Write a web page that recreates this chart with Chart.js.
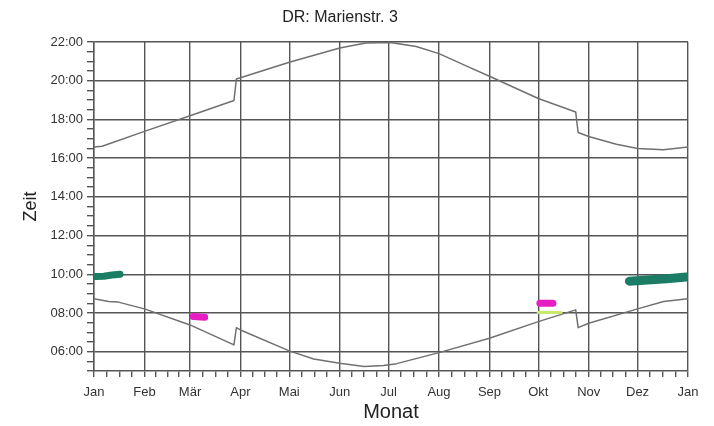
<!DOCTYPE html>
<html>
<head>
<meta charset="utf-8">
<script src="https://cdn.jsdelivr.net/npm/chart.js@4/dist/chart.umd.min.js"></script>
<style>
  html, body { margin: 0; padding: 0; background: #fff; }
  #wrap { width: 714px; height: 426px; }
</style>
</head>
<body>
<div id="wrap"><canvas id="chart" width="714" height="426"></canvas></div>
<script>
// x = day of year, y = time of day in hours
const monthStarts = [0, 31, 59, 90, 120, 151, 181, 212, 243, 273, 304, 334, 365];
const monthNames = ['Jan', 'Feb', 'Mär', 'Apr', 'Mai', 'Jun', 'Jul', 'Aug', 'Sep', 'Okt', 'Nov', 'Dez', 'Jan'];

// sunset (upper curve)
const sunsetDays  = [0, 5, 31, 59, 86, 87.5, 90, 120, 151, 167, 182, 198, 212, 229, 243, 273, 296, 297.5, 304, 321, 334, 350, 365];
const sunsetTimes = [16.57, 16.61, 17.38, 18.19, 18.98, 20.09, 20.15, 20.95, 21.69, 21.95, 21.98, 21.77, 21.40, 20.75, 20.23, 19.08, 18.38, 17.32, 17.12, 16.72, 16.50, 16.43, 16.57];

// sunrise (lower curve)
const sunriseDays  = [0, 9, 15, 31, 59, 86, 87.5, 90, 120, 135, 151, 166, 178, 186, 212, 243, 273, 296, 297.5, 304, 334, 350, 365];
const sunriseTimes = [8.73, 8.59, 8.56, 8.21, 7.38, 6.35, 7.24, 7.12, 6.04, 5.62, 5.40, 5.23, 5.28, 5.38, 5.95, 6.69, 7.55, 8.16, 7.24, 7.47, 8.21, 8.59, 8.73];

// shadow marks
const greenJanDays  = [1, 6, 11, 16];
const greenJanTimes = [9.88, 9.9, 9.96, 10.0];
const greenDezDays  = [329, 340, 352, 364];
const greenDezTimes = [9.64, 9.7, 9.77, 9.86];
const pinkMarDays  = [61, 68];
const pinkMarTimes = [7.82, 7.78];
const pinkOktDays  = [274, 282];
const pinkOktTimes = [8.5, 8.5];
const yellowOktDays  = [273, 287];
const yellowOktTimes = [8.02, 8.02];

function pts(xs, ys) {
    return xs.map((x, i) => ({ x: x, y: ys[i] }));
}

function pad(n) {
    return (n < 10 ? '0' : '') + n;
}

// minor ticks: quarter month subdivisions
const xTicks = [];
for (let i = 0; i < monthStarts.length - 1; i++) {
    const a = monthStarts[i], b = monthStarts[i + 1];
    for (let k = 0; k < 4; k++) xTicks.push(a + (b - a) * k / 4);
}
xTicks.push(365);

const FONT = "'Liberation Sans', Arial, sans-serif";
const GRID = '#555';

function lineSet(data, color, width) {
    return {
        data: data,
        borderColor: color,
        backgroundColor: color,
        borderWidth: width,
        pointRadius: 0,
        tension: 0,
        borderCapStyle: 'round',
        borderJoinStyle: 'round',
        fill: false
    };
}

const titlePlugin = {
    id: 'plotTitle',
    afterDraw(chart) {
        const c = chart.ctx;
        c.save();
        c.font = '16px ' + FONT;
        c.fillStyle = '#222';
        c.textAlign = 'center';
        c.textBaseline = 'middle';
        c.fillText('DR: Marienstr. 3', 340, 18);
        c.restore();
    }
};

new Chart(document.getElementById('chart').getContext('2d'), {
    type: 'line',
    data: {
        datasets: [
            lineSet(pts(yellowOktDays, yellowOktTimes), '#c8e86e', 3),
            lineSet(pts(sunsetDays, sunsetTimes), '#707070', 1.5),
            lineSet(pts(sunriseDays, sunriseTimes), '#707070', 1.5),
            lineSet(pts(greenJanDays, greenJanTimes), '#1b7d63', 7),
            lineSet(pts(greenDezDays, greenDezTimes), '#1b7d66', 9),
            lineSet(pts(pinkMarDays, pinkMarTimes), '#e61ec4', 7),
            lineSet(pts(pinkOktDays, pinkOktTimes), '#e61ec4', 7)
        ]
    },
    options: {
        responsive: false,
        animation: false,
        layout: { padding: { top: 42, right: 26, left: 0, bottom: 0 } },
        plugins: {
            legend: { display: false },
            tooltip: { enabled: false }
        },
        scales: {
            x: {
                type: 'linear',
                min: 0,
                max: 365,
                afterBuildTicks: scale => {
                    scale.ticks = xTicks.map(v => ({ value: v }));
                },
                afterFit: scale => { scale.height = 55; },
                ticks: {
                    autoSkip: false,
                    maxRotation: 0,
                    padding: 8,
                    color: '#333',
                    font: { family: FONT, size: 13 },
                    callback: v => {
                        const i = monthStarts.indexOf(v);
                        return i >= 0 ? monthNames[i] : '';
                    }
                },
                grid: {
                    color: ctx => monthStarts.indexOf(ctx.tick.value) >= 0 ? GRID : 'rgba(0,0,0,0)',
                    tickColor: GRID,
                    tickLength: 6,
                    lineWidth: 1.4
                },
                border: { color: GRID, width: 1.4 },
                title: {
                    display: true,
                    text: 'Monat',
                    color: '#222',
                    font: { family: FONT, size: 20 },
                    padding: { top: 0, bottom: 2 }
                }
            },
            y: {
                min: 5,
                max: 22,
                afterFit: scale => { scale.width = 94; },
                ticks: {
                    stepSize: 0.5,
                    autoSkip: false,
                    padding: 4,
                    color: '#333',
                    font: { family: FONT, size: 13 },
                    callback: v => (v % 2 === 0 && v >= 6) ? pad(v) + ':00' : ''
                },
                grid: {
                    color: ctx => (ctx.tick.value % 2 === 0 && ctx.tick.value >= 6) ? GRID : 'rgba(0,0,0,0)',
                    tickColor: GRID,
                    tickLength: 7,
                    lineWidth: 1.4
                },
                border: { color: GRID, width: 1.4 },
                title: {
                    display: true,
                    text: 'Zeit',
                    color: '#222',
                    font: { family: FONT, size: 18 },
                    padding: { top: 20, bottom: 0 }
                }
            }
        }
    },
    plugins: [titlePlugin]
});
</script>
</body>
</html>
